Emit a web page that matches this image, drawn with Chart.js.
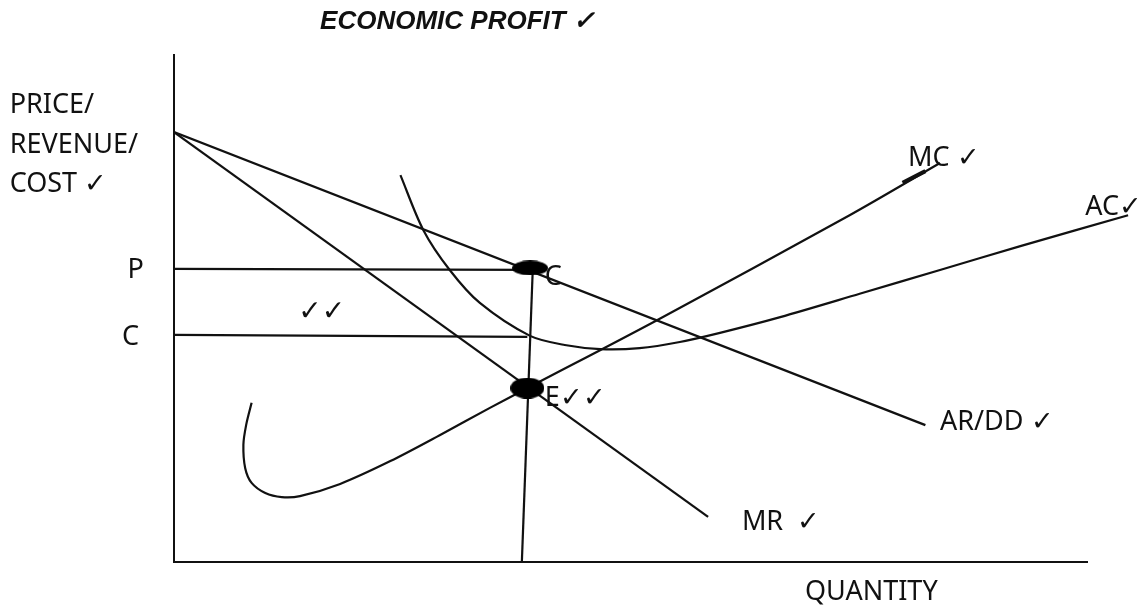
<!DOCTYPE html>
<html>
<head>
<meta charset="utf-8">
<script src="https://cdn.jsdelivr.net/npm/chart.js@4.4.0/dist/chart.umd.min.js"></script>
<style>
  html, body { margin: 0; padding: 0; background: #fff; }
  #wrap { width: 1144px; height: 610px; }
</style>
</head>
<body>
<div id="wrap"><canvas id="econ-chart"></canvas></div>
<script>
// curve values (quantity, price) on a 0-100 scale
const arCurve = [{x: 0, y: 84.8}, {x: 82.3, y: 27.0}];
const mrCurve = [{x: 0, y: 84.8}, {x: 58.5, y: 8.9}];
const mcCurve = [
    {x: 8.5, y: 31.4}, {x: 7.9, y: 27.0}, {x: 7.6, y: 23.1}, {x: 7.8, y: 18.5},
    {x: 8.5, y: 15.6}, {x: 10.0, y: 13.6}, {x: 11.8, y: 12.8}, {x: 13.8, y: 13.0},
    {x: 18.2, y: 15.4}, {x: 23.7, y: 19.9}, {x: 29.1, y: 25.0}, {x: 34.6, y: 30.4},
    {x: 38.7, y: 34.3}, {x: 52.9, y: 47.7}, {x: 74.0, y: 68.4}, {x: 83.9, y: 78.7}
];
const mcPenMark = [{x: 79.8, y: 74.8}, {x: 82.3, y: 77.1}];
const acCurve = [
    {x: 24.8, y: 76.3}, {x: 27.3, y: 65.5}, {x: 30.2, y: 57.6}, {x: 33.5, y: 51.1},
    {x: 39.0, y: 44.6}, {x: 42.8, y: 42.8}, {x: 46.7, y: 42.0}, {x: 51.0, y: 42.2},
    {x: 55.4, y: 43.4}, {x: 59.8, y: 45.2}, {x: 66.4, y: 48.3}, {x: 75.1, y: 52.9},
    {x: 83.9, y: 57.6}, {x: 92.7, y: 62.3}, {x: 104.5, y: 68.4}
];
const priceLine = [{x: 0, y: 57.8}, {x: 39.0, y: 57.6}];
const costLine = [{x: 0, y: 44.8}, {x: 38.7, y: 44.4}];
const outputLine = [{x: 39.3, y: 58.0}, {x: 38.1, y: 0}];
const keyPoints = [{x: 39.0, y: 58.0}, {x: 38.7, y: 34.3}];

// text labels: [text, x, y, font]
const labels = [
    ["ECONOMIC PROFIT \u2713", 16.0, 106.5, "italic bold 26px 'Liberation Sans'"],
    ["PRICE/", -18.0, 90.1, "27px 'Noto Sans'"],
    ["REVENUE/", -18.0, 82.2, "27px 'Noto Sans'"],
    ["COST \u2713", -18.0, 74.4, "27px 'Noto Sans'"],
    ["P", -5.1, 57.6, "27px 'Noto Sans'"],
    ["C", -5.7, 44.4, "27px 'Noto Sans'"],
    ["\u2713\u2713", 13.6, 49.1, "28px 'DejaVu Sans'"],
    ["C", 40.6, 56.2, "27px 'Noto Sans'"],
    ["E\u2713\u2713", 40.6, 32.3, "27px 'Noto Sans'"],
    ["MC \u2713", 80.4, 79.7, "27px 'Noto Sans'"],
    ["AC\u2713", 99.8, 70.0, "27px 'Noto Sans'"],
    ["AR/DD \u2713", 83.9, 27.6, "27px 'Noto Sans'"],
    ["MR  \u2713", 62.2, 7.9, "27px 'Noto Sans'"],
    ["QUANTITY", 69.1, -5.9, "27px 'Noto Sans'"]
];

function blob(w, h) {
    const c = document.createElement('canvas');
    c.width = w; c.height = h;
    const g = c.getContext('2d');
    g.fillStyle = '#000';
    g.beginPath();
    g.ellipse(w / 2, h / 2, w / 2, h / 2, 0, 0, Math.PI * 2);
    g.fill();
    return c;
}

const textPlugin = {
    id: 'textLabels',
    afterDraw(chart) {
        const ctx = chart.ctx;
        const xs = chart.scales.x, ys = chart.scales.y;
        ctx.save();
        ctx.fillStyle = '#111';
        ctx.textBaseline = 'middle';
        ctx.textAlign = 'left';
        labels.forEach(l => {
            ctx.font = l[3];
            ctx.fillText(l[0], xs.getPixelForValue(l[1]), ys.getPixelForValue(l[2]));
        });
        ctx.restore();
    }
};

function line(data, extra) {
    return Object.assign({
        data: data,
        showLine: true,
        borderColor: '#111',
        borderWidth: 2.2,
        pointRadius: 0,
        fill: false
    }, extra || {});
}

new Chart(document.getElementById("econ-chart"), {
    type: 'scatter',
    data: {
        datasets: [
            line(arCurve),
            line(mrCurve),
            line(mcCurve, {tension: 0.3}),
            line(mcPenMark, {borderWidth: 4}),
            line(acCurve, {tension: 0.3, clip: false}),
            line(priceLine),
            line(costLine),
            line(outputLine),
            {
                data: keyPoints,
                pointStyle: [blob(36, 15), blob(34, 21)],
                pointRadius: 10,
                showLine: false,
                order: -1
            }
        ]
    },
    options: {
        responsive: true,
        maintainAspectRatio: false,
        animation: false,
        layout: {padding: {left: 174, right: 57, top: 55, bottom: 48}},
        plugins: {legend: {display: false}, tooltip: {enabled: false}, title: {display: false}},
        scales: {
            x: {
                type: 'linear', min: 0, max: 100,
                grid: {display: false},
                ticks: {display: false},
                border: {color: '#111', width: 2},
                afterFit(s) { s.height = 0; }
            },
            y: {
                type: 'linear', min: 0, max: 100,
                grid: {display: false},
                ticks: {display: false},
                border: {color: '#111', width: 2},
                afterFit(s) { s.width = 0; }
            }
        }
    },
    plugins: [textPlugin]
});
</script>
</body>
</html>
